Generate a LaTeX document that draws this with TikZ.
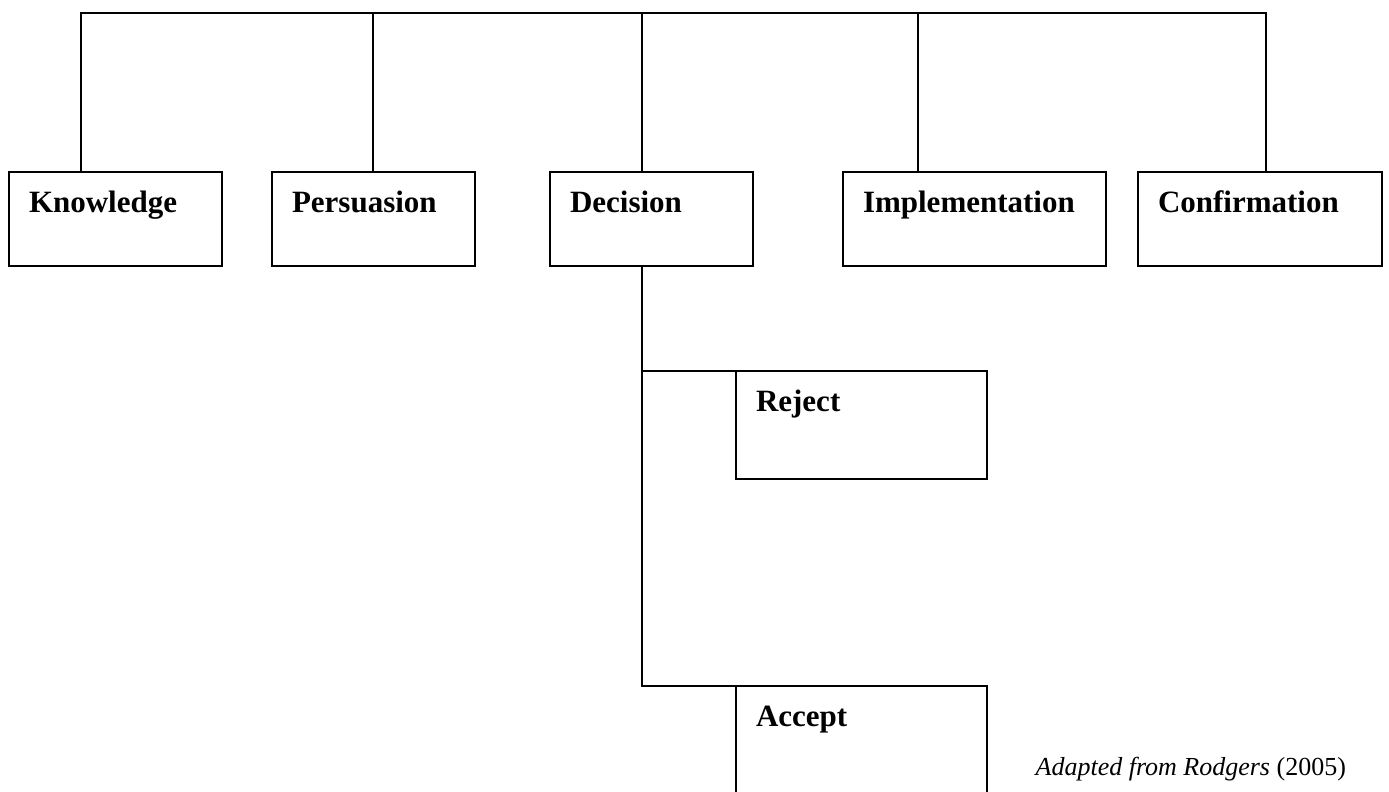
\documentclass[tikz,border=0pt]{standalone}
\usepackage{fontspec}
\setmainfont{Liberation Serif}
\begin{document}
\begin{tikzpicture}[x=1pt,y=-1pt,
  line width=1.3pt,
  stagebox/.style={draw, line width=1.3pt, anchor=north west, inner xsep=20pt, inner ysep=0pt,
    outer sep=0pt, align=left, text height=40pt, font=\fontsize{31}{36}\selectfont\bfseries},
  caption/.style={anchor=base west, inner sep=0pt, font=\fontsize{26}{30}\selectfont}
]
\clip (0,0) rectangle (1389,792);
\fill[white] (0,0) rectangle (1389,792);
% stage boxes
\node[stagebox, text width=173pt, text depth=54pt] (K) at (9,172) {Knowledge};
\node[stagebox, text width=163pt, text depth=54pt] (P) at (272,172) {Persuasion};
\node[stagebox, text width=163pt, text depth=54pt] (D) at (550,172) {Decision};
\node[stagebox, text width=223pt, text depth=54pt] (I) at (843,172) {Implementation};
\node[stagebox, text width=204pt, text depth=54pt] (C) at (1138,172) {Confirmation};
% outcome boxes
\node[stagebox, text width=211pt, text depth=68pt] (R) at (736,371) {Reject};
\node[stagebox, text width=211pt, text depth=110pt] (A) at (736,686) {Accept};
% top bus
\coordinate (tK) at (81,13);
\coordinate (tP) at (373,13);
\coordinate (tD) at (642,13);
\coordinate (tI) at (918,13);
\coordinate (tC) at (1266,13);
\draw[line join=miter] (K.north -| tK) -- (tK) -- (tC) -- (C.north -| tC);
\draw (tP) -- (P.north -| tP);
\draw (tD) -- (D.north -| tD);
\draw (tI) -- (I.north -| tI);
% decision branches
\draw[line join=miter] (D.south -| tD) -- (A.north -| tD) -- (A.north west);
\draw (R.north -| tD) -- (R.north west);
% caption
\node[caption] (cap) at (1035,775) {\textit{Adapted from Rodgers} (2005)};
\end{tikzpicture}
\end{document}
